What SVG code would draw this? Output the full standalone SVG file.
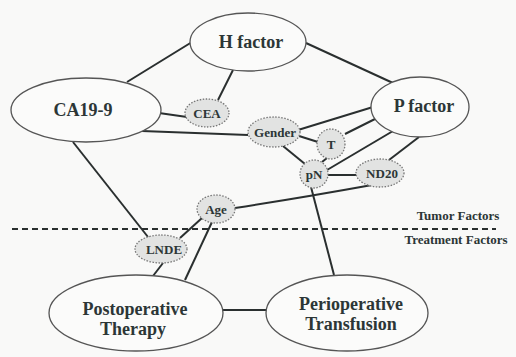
<svg xmlns="http://www.w3.org/2000/svg" width="516" height="357" viewBox="0 0 516 357">
<style>
.big{fill:#fbfbfa;stroke:#555;stroke-width:1.3}
.small{fill:#e2e3e2;stroke:#777;stroke-width:1.3;stroke-dasharray:1.5 1.5}
.lb{font-family:"Liberation Serif",serif;font-weight:bold;font-size:18px;fill:#2c3636;text-anchor:middle}
.ls{font-family:"Liberation Serif",serif;font-weight:bold;font-size:13px;fill:#2c3636;text-anchor:middle}
.conn line,.conn path{stroke:#2a2f2f;stroke-width:2;fill:none}
</style>
<rect width="516" height="357" fill="#f9f9f8"/>
<g class="conn">
<line x1="127" y1="82" x2="192" y2="42"/>
<line x1="306" y1="43" x2="393" y2="83"/>
<line x1="233" y1="70" x2="218" y2="100"/>
<line x1="159" y1="113" x2="187" y2="117"/>
<line x1="142" y1="131" x2="248" y2="135"/>
<line x1="73" y1="142" x2="148" y2="237"/>
<line x1="298" y1="130" x2="373" y2="107"/>
<line x1="299" y1="136" x2="318" y2="142"/>
<line x1="345" y1="134" x2="377" y2="118"/>
<line x1="283" y1="146" x2="305" y2="164"/>
<line x1="327" y1="158" x2="322" y2="162"/>
<line x1="327" y1="170" x2="393" y2="131"/>
<line x1="328" y1="175" x2="356" y2="175"/>
<line x1="389" y1="160" x2="419" y2="137"/>
<line x1="311" y1="187" x2="334" y2="275"/>
<path d="M235,208 Q300,198 372,185"/>
<line x1="202" y1="218" x2="180" y2="238"/>
<line x1="212" y1="222" x2="185" y2="280"/>
<line x1="163" y1="263" x2="153" y2="276"/>
<line x1="222" y1="310" x2="267" y2="310"/>
<line x1="12" y1="229" x2="496" y2="229" stroke-dasharray="6 4" stroke-width="1.8"/>
</g>
<g id="h-factor"><ellipse class="big" cx="248" cy="42" rx="58" ry="29"/><text class="lb" x="251" y="48">H factor</text></g>
<g id="ca19-9"><ellipse class="big" cx="86" cy="110" rx="75" ry="32"/><text class="lb" x="83" y="116">CA19-9</text></g>
<g id="p-factor"><ellipse class="big" cx="420" cy="107" rx="49" ry="30"/><text class="lb" x="424" y="112">P factor</text></g>
<g id="cea"><ellipse class="small" cx="207" cy="113" rx="22" ry="14"/><text class="ls" x="207" y="118">CEA</text></g>
<g id="gender"><ellipse class="small" cx="274" cy="132" rx="26" ry="15"/><text class="ls" x="275" y="137">Gender</text></g>
<g id="t"><ellipse class="small" cx="331" cy="144" rx="14" ry="15"/><text class="ls" x="331" y="149">T</text></g>
<g id="pn"><ellipse class="small" cx="314" cy="174" rx="14" ry="14"/><text class="ls" x="314" y="179">pN</text></g>
<g id="nd20"><ellipse class="small" cx="380" cy="173" rx="24" ry="14"/><text class="ls" x="382" y="178">ND20</text></g>
<g id="age"><ellipse class="small" cx="216" cy="209" rx="19" ry="14"/><text class="ls" x="216" y="214">Age</text></g>
<g id="lnde"><ellipse class="small" cx="161" cy="249" rx="26" ry="14"/><text class="ls" x="164" y="254">LNDE</text></g>
<g id="postoperative"><ellipse class="big" cx="136" cy="313" rx="87" ry="38"/><text class="lb" x="135" y="315" font-size="17">Postoperative</text><text class="lb" x="133" y="335" font-size="17">Therapy</text></g>
<g id="perioperative"><ellipse class="big" cx="347" cy="313" rx="81" ry="38"/><text class="lb" x="351" y="310" font-size="17">Perioperative</text><text class="lb" x="351" y="330" font-size="17">Transfusion</text></g>
<text class="ls" x="458" y="220" font-size="14">Tumor Factors</text>
<text class="ls" x="456" y="244" font-size="14">Treatment Factors</text>
</svg>
